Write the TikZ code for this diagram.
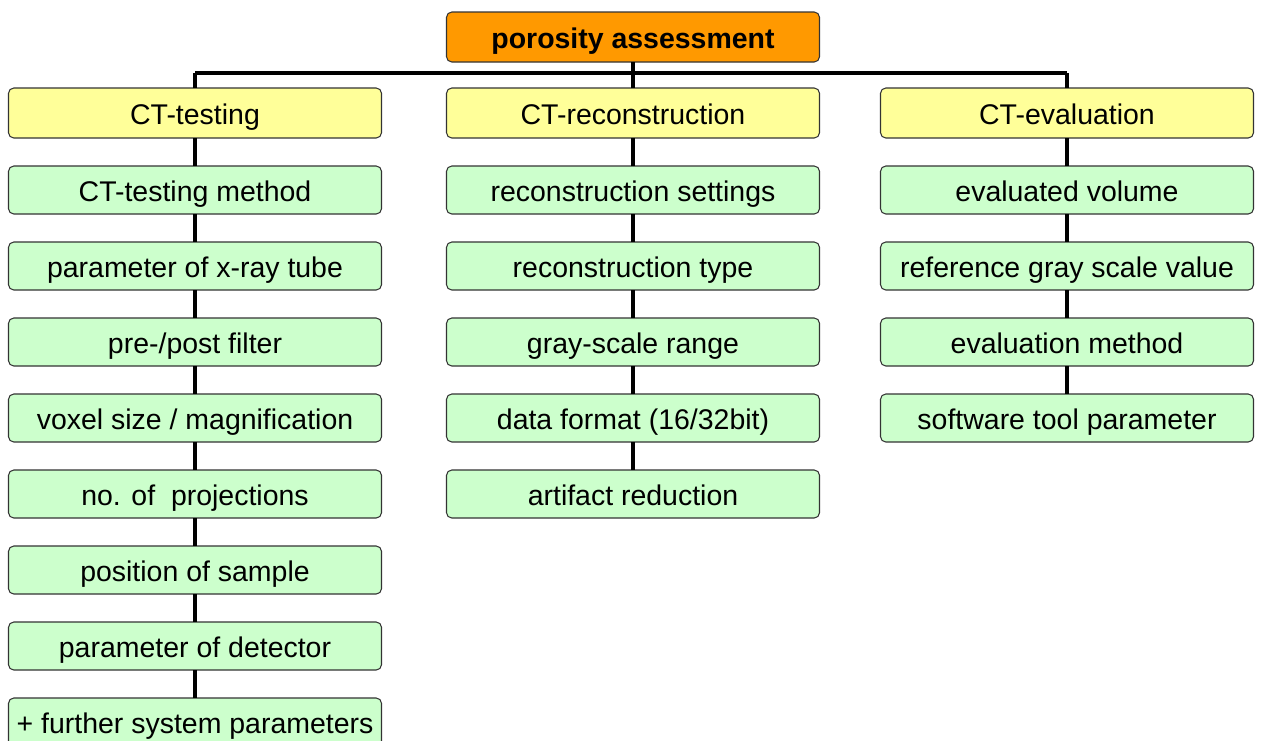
\documentclass[tikz,border=0pt]{standalone}
\usepackage{fontspec}
\setmainfont{Liberation Sans}
\definecolor{boxorange}{RGB}{255,153,0}
\definecolor{boxyellow}{RGB}{255,255,153}
\definecolor{boxgreen}{RGB}{204,255,204}
\usetikzlibrary{positioning}

\begin{document}
\begin{tikzpicture}[
    node distance=0.56cm,
    basebox/.style={rectangle, draw=black!80, line width=0.6pt,
                    rounded corners=3pt, minimum width=7.46cm,
                    inner sep=2pt, outer sep=0pt,
                    text height=13.6pt, text depth=0.6pt,
                    font=\fontsize{16.2}{19}\selectfont},
    rootbox/.style={basebox, fill=boxorange, minimum height=1cm,
                    font=\fontsize{16.2}{19}\selectfont\bfseries},
    groupbox/.style={basebox, fill=boxyellow, minimum height=1cm},
    itembox/.style={basebox, fill=boxgreen, minimum height=0.96cm},
    link/.style={draw=black, line width=2.5pt}
]
\useasboundingbox (0,0) rectangle (25.24,-14.8);

% root and the three groups
\node[rootbox] (assess) at (12.66,-0.74) {porosity assessment};
\node[groupbox] (testing) at (3.9,-2.26) {CT-testing};
\node[groupbox] (recon) at (12.66,-2.26) {CT-reconstruction};
\node[groupbox] (evalu) at (21.34,-2.26) {CT-evaluation};

% CT-testing items
\node[itembox, below=of testing] (t1) {CT-testing method};
\node[itembox, below=of t1] (t2) {parameter of x-ray tube};
\node[itembox, below=of t2] (t3) {pre-/post filter};
\node[itembox, below=of t3] (t4) {voxel size / magnification};
\node[itembox, below=of t4] (t5) {no. of~ projections};
\node[itembox, below=of t5] (t6) {position of sample};
\node[itembox, below=of t6] (t7) {parameter of detector};
\node[itembox, below=of t7] (t8) {+ further system parameters};

% CT-reconstruction items
\node[itembox, below=of recon] (r1) {reconstruction settings};
\node[itembox, below=of r1] (r2) {reconstruction type};
\node[itembox, below=of r2] (r3) {gray-scale range};
\node[itembox, below=of r3] (r4) {data format (16/32bit)};
\node[itembox, below=of r4] (r5) {artifact reduction};

% CT-evaluation items
\node[itembox, below=of evalu] (e1) {evaluated volume};
\node[itembox, below=of e1] (e2) {reference gray scale value};
\node[itembox, below=of e2] (e3) {evaluation method};
\node[itembox, below=of e3] (e4) {software tool parameter};

% bus from the root
\coordinate (bus) at (0,-1.46);
\draw[link] (assess.south) -- (assess.south |- bus);
\draw[link] (testing.north |- bus) -- (evalu.north |- bus);
\draw[link] (testing.north) -- (testing.north |- bus);
\draw[link] (recon.north) -- (recon.north |- bus);
\draw[link] (evalu.north) -- (evalu.north |- bus);

% chains
\draw[link] (testing) -- (t1) (t1) -- (t2) (t2) -- (t3) (t3) -- (t4)
            (t4) -- (t5) (t5) -- (t6) (t6) -- (t7) (t7) -- (t8);
\draw[link] (recon) -- (r1) (r1) -- (r2) (r2) -- (r3) (r3) -- (r4)
            (r4) -- (r5);
\draw[link] (evalu) -- (e1) (e1) -- (e2) (e2) -- (e3) (e3) -- (e4);
\end{tikzpicture}
\end{document}
